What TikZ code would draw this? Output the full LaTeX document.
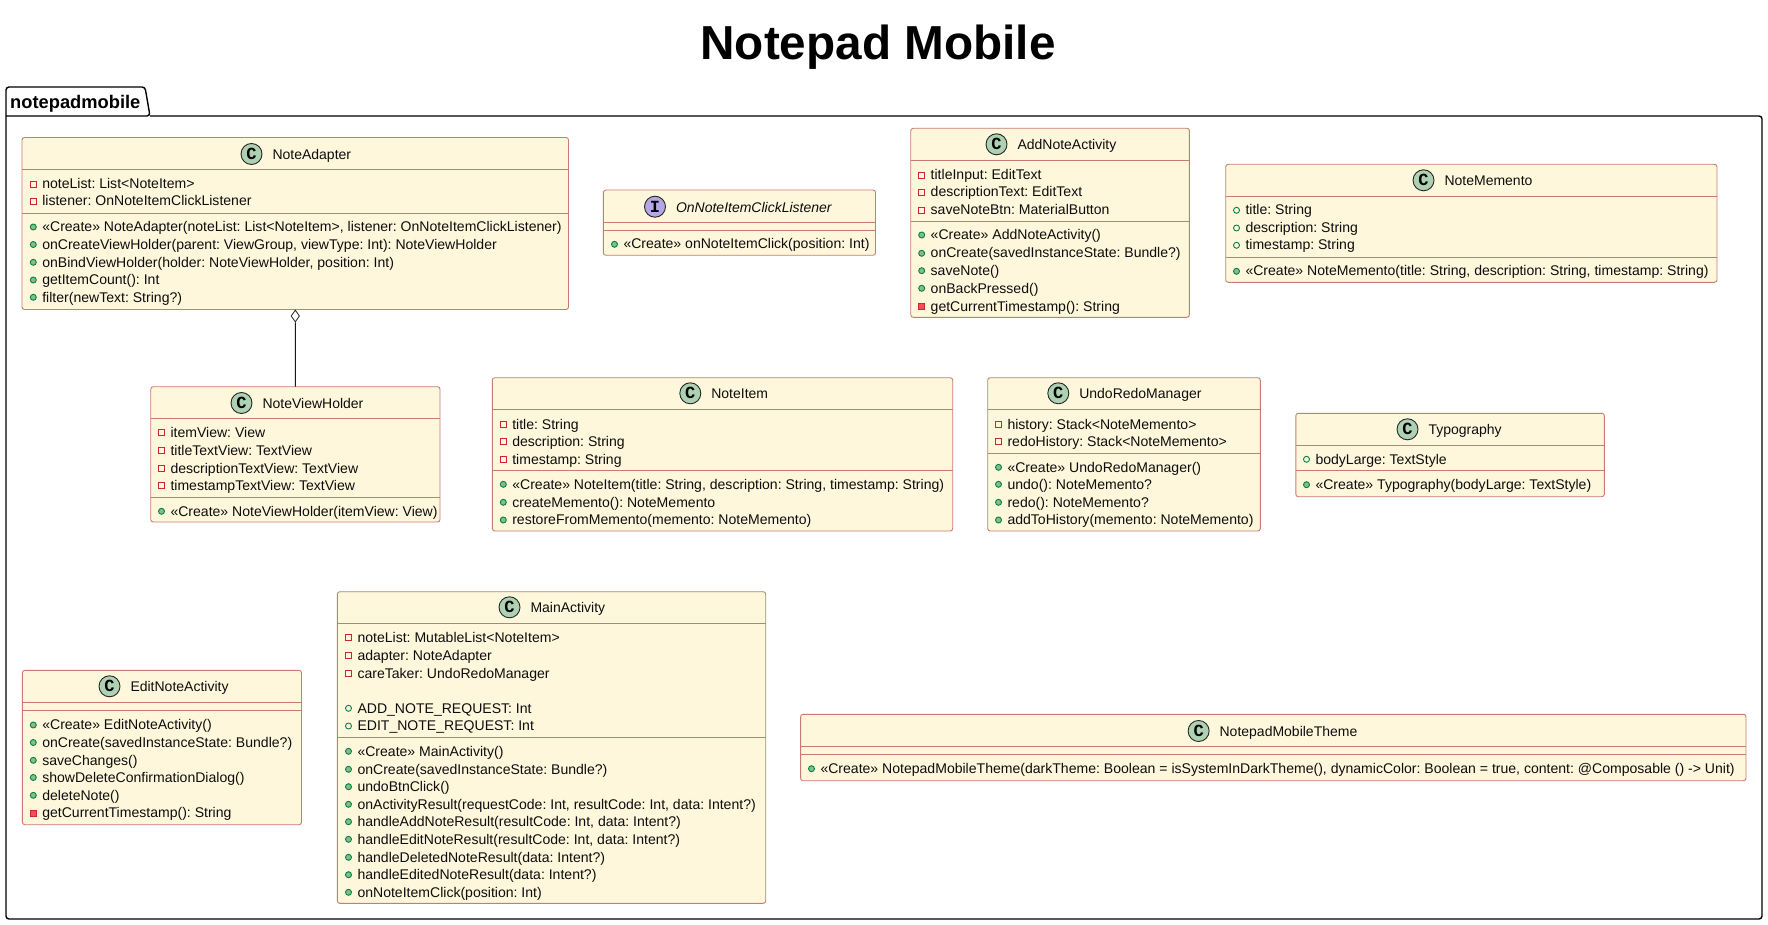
\documentclass[tikz,border=0pt]{standalone}
\usepackage{fontspec}
\setmainfont{Liberation Sans}
\newfontfamily\spotfont{Liberation Mono}
\usetikzlibrary{shapes.geometric}
\frenchspacing
\definecolor{boxfill}{HTML}{FFF7DC}
\definecolor{boxline}{HTML}{C77B74}
\definecolor{spotc}{HTML}{ADD1B2}
\definecolor{spoti}{HTML}{B4A7E5}
\definecolor{pubfill}{HTML}{84BE84}
\definecolor{publine}{HTML}{038048}
\definecolor{privfill}{HTML}{F24D5C}
\definecolor{privline}{HTML}{C82930}
\newcounter{rowcnt}
\tikzset{
  classbox/.style={draw=boxline,fill=boxfill,line width=0.9pt,rounded corners=2.5pt,inner sep=0pt,outer sep=0pt},
  sepline/.style={draw=boxline,line width=0.9pt},
  rowtext/.style={anchor=base west,inner sep=0pt,outer sep=0pt,font=\fontsize{\rowfs}{16}\selectfont,text=black!95},
  titletext/.style={anchor=base west,inner sep=0pt,outer sep=0pt,font=\fontsize{14}{16}\selectfont,text=black!95},
  spot/.style={circle,draw=black!85,line width=0.9pt,minimum size=21pt,inner sep=0pt,font=\spotfont\bfseries\fontsize{17}{17}\selectfont},
  aggr/.style={diamond,draw=black!85,fill=white,line width=0.8pt,inner sep=0pt,minimum width=8.5pt,minimum height=12pt,aspect=0.7},
  conn/.style={draw=black!90,line width=1pt}
}
\newcommand{\rowfs}{14.05}
\newcommand{\classnode}[5]{%
  \pgfmathsetmacro{\cxx}{(#2+#4)/2}\pgfmathsetmacro{\cyy}{(#3+#5)/2}%
  \pgfmathsetmacro{\cww}{#4-#2}\pgfmathsetmacro{\chh}{#5-#3}%
  \node[classbox,minimum width=\cww pt,minimum height=\chh pt] (#1) at (\cxx,\cyy) {};}
\newcommand{\head}[5]{% name, letter, cx, cy, title
  \node[spot,fill=spotc] (#1spot) at (#3,#4) {#2};
  \pgfmathsetmacro{\tx}{#3+21}\pgfmathsetmacro{\ty}{#4+5.5}%
  \node[titletext] (#1title) at (\tx,\ty) {#5};}
\newcommand{\sep}[2]{\draw[sepline] (#1.west |- 0,#2) -- (#1.east |- 0,#2);}
\newcommand{\rowtxt}[3]{%
  \stepcounter{rowcnt}\pgfmathsetmacro{\tx}{#1+9}\pgfmathsetmacro{\ty}{#2+4.7}%
  \node[rowtext] (row\therowcnt) at (\tx,\ty) {#3};}
\newcommand{\privattr}[3]{\draw[privline,line width=0.9pt] (#1-3,#2-3) rectangle (#1+3,#2+3);\rowtxt{#1}{#2}{#3}}
\newcommand{\privmeth}[3]{\draw[privline,fill=privfill,line width=0.9pt] (#1-3,#2-3) rectangle (#1+3,#2+3);\rowtxt{#1}{#2}{#3}}
\newcommand{\pubattr}[3]{\draw[publine,line width=0.9pt] (#1,#2) circle (3pt);\rowtxt{#1}{#2}{#3}}
\newcommand{\pubmeth}[3]{\draw[publine,fill=pubfill,line width=0.9pt] (#1,#2) circle (3pt);\rowtxt{#1}{#2}{#3}}
\begin{document}
\begin{tikzpicture}[x=1pt,y=-1pt]
\useasboundingbox (0,0) rectangle (1768,925);
\fill[white] (0,0) rectangle (1768,925);
% title
\node[anchor=base,inner sep=0pt,font=\bfseries\fontsize{47.7}{56}\selectfont] (diagramtitle) at (878,60) {Notepad Mobile};
% package
\draw[black,line width=1.4pt,rounded corners=3pt] (6,116) -- (6,87) -- (145,87) -- (150,116) -- (6,116);
\draw[black,line width=1.4pt,rounded corners=3pt] (150,116) -- (1762,116) -- (1762,919) -- (6,919) -- (6,116);
\node[anchor=base west,inner sep=0pt,font=\bfseries\fontsize{18.3}{20}\selectfont] (pkglabel) at (10,109) {notepadmobile};

% NoteAdapter
\classnode{NoteAdapter}{22}{137.5}{568.5}{309.5}
\head{na}{C}{251.5}{154}{NoteAdapter}
\sep{NoteAdapter}{169.3}\sep{NoteAdapter}{213.3}
\privattr{33.3}{184.3}{noteList: List<NoteItem>}
\privattr{33.3}{201.3}{listener: OnNoteItemClickListener}
\pubmeth{33.3}{227}{«Create» NoteAdapter(noteList: List<NoteItem>, listener: OnNoteItemClickListener)}
\pubmeth{33.3}{244.5}{onCreateViewHolder(parent: ViewGroup, viewType: Int): NoteViewHolder}
\pubmeth{33.3}{262.3}{onBindViewHolder(holder: NoteViewHolder, position: Int)}
\pubmeth{33.3}{280}{getItemCount(): Int}
\pubmeth{33.3}{297.3}{filter(newText: String?)}

% NoteViewHolder
\classnode{NoteViewHolder}{150.7}{386.7}{440}{522}
\head{nvh}{C}{241.5}{403}{NoteViewHolder}
\sep{NoteViewHolder}{418.3}\sep{NoteViewHolder}{497.3}
\privattr{161.5}{432.3}{itemView: View}
\privattr{161.5}{450.3}{titleTextView: TextView}
\privattr{161.5}{468.3}{descriptionTextView: TextView}
\privattr{161.5}{485.3}{timestampTextView: TextView}
\pubmeth{161.5}{511.3}{«Create» NoteViewHolder(itemView: View)}

% OnNoteItemClickListener
\classnode{Listener}{603.4}{190}{875.5}{255.3}
\node[spot,fill=spoti] (lsspot) at (655,206.7) {I};
\node[titletext,font=\itshape\fontsize{14}{16}\selectfont] (lstitle) at (676,212.2) {OnNoteItemClickListener};
\sep{Listener}{222.3}\sep{Listener}{230.3}
\pubmeth{614.5}{244.3}{«Create» onNoteItemClick(position: Int)}

% AddNoteActivity
\classnode{AddNote}{910.7}{128.3}{1189.4}{317.3}
\head{an}{C}{996.5}{144.3}{AddNoteActivity}
\sep{AddNote}{160.3}\sep{AddNote}{221.3}
\privattr{921.7}{175}{titleInput: EditText}
\privattr{921.7}{192.3}{descriptionText: EditText}
\privattr{921.7}{210.3}{saveNoteBtn: MaterialButton}
\pubmeth{921.7}{235}{«Create» AddNoteActivity()}
\pubmeth{921.7}{253.3}{onCreate(savedInstanceState: Bundle?)}
\pubmeth{921.7}{270.7}{saveNote()}
\pubmeth{921.7}{288.3}{onBackPressed()}
\privmeth{921.7}{306.3}{getCurrentTimestamp(): String}

% NoteMemento
\classnode{NoteMemento}{1225.7}{164.3}{1717}{282.3}
\head{nm}{C}{1423.5}{180.3}{NoteMemento}
\sep{NoteMemento}{196.3}\sep{NoteMemento}{257.3}
\pubattr{1236.5}{210.3}{title: String}
\pubattr{1236.5}{228}{description: String}
\pubattr{1236.5}{245.3}{timestamp: String}
\pubmeth{1236.5}{271.3}{«Create» NoteMemento(title: String, description: String, timestamp: String)}

% NoteItem
\classnode{NoteItem}{492.3}{377.7}{952.7}{531}
\head{ni}{C}{690.3}{393.3}{NoteItem}
\sep{NoteItem}{409.3}\sep{NoteItem}{470.3}
\privattr{503.3}{424.3}{title: String}
\privattr{503.3}{441.3}{description: String}
\privattr{503.3}{459.3}{timestamp: String}
\pubmeth{503.3}{484.3}{«Create» NoteItem(title: String, description: String, timestamp: String)}
\pubmeth{503.3}{502.3}{createMemento(): NoteMemento}
\pubmeth{503.3}{520}{restoreFromMemento(memento: NoteMemento)}

% UndoRedoManager
\classnode{UndoRedo}{987.7}{377.7}{1260.3}{531}
\head{ur}{C}{1058.3}{393.3}{UndoRedoManager}
\sep{UndoRedo}{409.3}\sep{UndoRedo}{453.3}
\privattr{998.5}{424.3}{history: Stack<NoteMemento>}
\privattr{998.5}{441.3}{redoHistory: Stack<NoteMemento>}
\pubmeth{998.5}{467.3}{«Create» UndoRedoManager()}
\pubmeth{998.5}{484.3}{undo(): NoteMemento?}
\pubmeth{998.5}{502.3}{redo(): NoteMemento?}
\pubmeth{998.5}{520}{addToHistory(memento: NoteMemento)}

% Typography
\classnode{Typography}{1295.8}{413.3}{1604.3}{496.7}
\head{ty}{C}{1407.5}{429.3}{Typography}
\sep{Typography}{445.3}\sep{Typography}{470.3}
\pubattr{1306.5}{459.3}{bodyLarge: TextStyle}
\pubmeth{1306.5}{484.7}{«Create» Typography(bodyLarge: TextStyle)}

% EditNoteActivity
\classnode{EditNote}{22.4}{670.3}{301.5}{824.7}
\head{en}{C}{109.5}{686.3}{EditNoteActivity}
\sep{EditNote}{702.3}\sep{EditNote}{710.3}
\pubmeth{33.3}{725}{«Create» EditNoteActivity()}
\pubmeth{33.3}{742.5}{onCreate(savedInstanceState: Bundle?)}
\pubmeth{33.3}{760.3}{saveChanges()}
\pubmeth{33.3}{777.5}{showDeleteConfirmationDialog()}
\pubmeth{33.3}{795.3}{deleteNote()}
\privmeth{33.3}{813}{getCurrentTimestamp(): String}

% MainActivity
\classnode{MainActivity}{337.3}{591.7}{765.7}{903.3}
\head{ma}{C}{509.5}{607.3}{MainActivity}
\sep{MainActivity}{623.3}\sep{MainActivity}{737}
\privattr{348.5}{637.7}{noteList: MutableList<NoteItem>}
\privattr{348.5}{655.3}{adapter: NoteAdapter}
\privattr{348.5}{673.3}{careTaker: UndoRedoManager}
\pubattr{348.5}{708.3}{ADD\_NOTE\_REQUEST: Int}
\pubattr{348.5}{726}{EDIT\_NOTE\_REQUEST: Int}
\pubmeth{348.5}{751.3}{«Create» MainActivity()}
\pubmeth{348.5}{769.3}{onCreate(savedInstanceState: Bundle?)}
\pubmeth{348.5}{786.7}{undoBtnClick()}
\pubmeth{348.5}{804.3}{onActivityResult(requestCode: Int, resultCode: Int, data: Intent?)}
\pubmeth{348.5}{821.7}{handleAddNoteResult(resultCode: Int, data: Intent?)}
\pubmeth{348.5}{839.3}{handleEditNoteResult(resultCode: Int, data: Intent?)}
\pubmeth{348.5}{857.3}{handleDeletedNoteResult(data: Intent?)}
\pubmeth{348.5}{874.7}{handleEditedNoteResult(data: Intent?)}
\pubmeth{348.5}{892.3}{onNoteItemClick(position: Int)}

% NotepadMobileTheme
\classnode{Theme}{800.6}{714.3}{1746}{780.7}
\head{th}{C}{1198.6}{731}{NotepadMobileTheme}
\sep{Theme}{746.3}\sep{Theme}{754.3}
\pubmeth{811.5}{768.7}{«Create» NotepadMobileTheme(darkTheme: Boolean = isSystemInDarkTheme(), dynamicColor: Boolean = true, content: @Composable () -> Unit)}

% aggregation
\node[aggr] (agg) at (295.3,316) {};
\draw[conn] (agg.south) -- (NoteViewHolder.north);
\end{tikzpicture}
\end{document}
